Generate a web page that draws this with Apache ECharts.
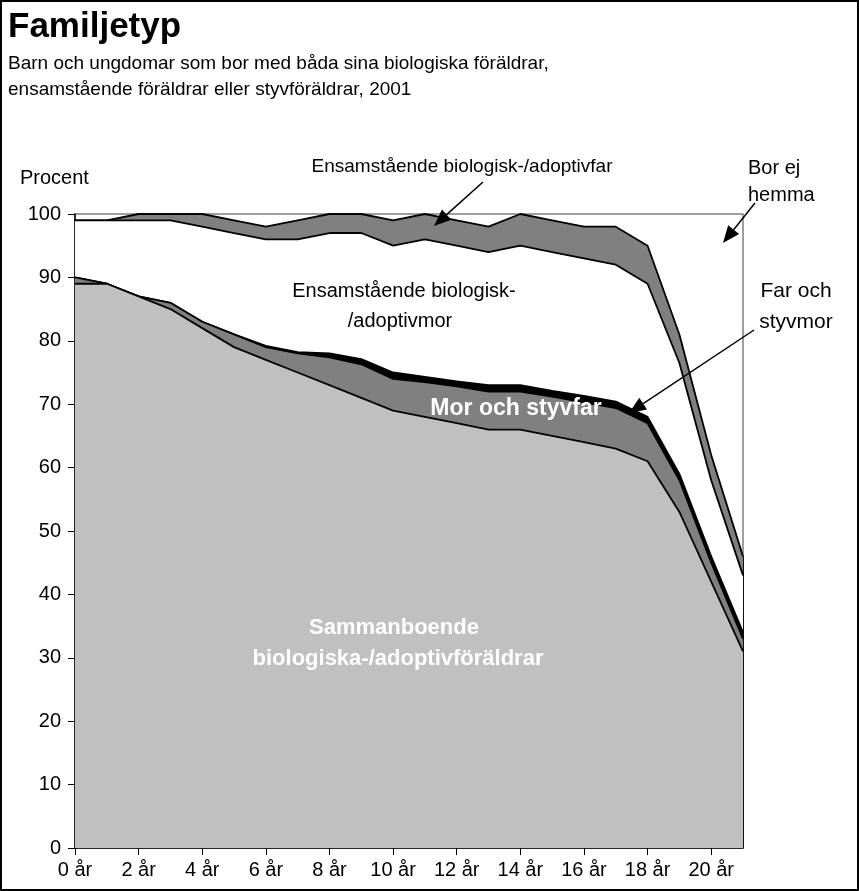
<!DOCTYPE html>
<html>
<head>
<meta charset="utf-8">
<script src="https://cdn.jsdelivr.net/npm/echarts@6/dist/echarts.min.js"></script>
<style>
  html, body { margin: 0; padding: 0; background: #fff; }
  #chart { width: 859px; height: 891px; }
</style>
</head>
<body>
<div id="chart"></div>
<script>
// ---- data (percent) ----
const categories = ['0 år','1 år','2 år','3 år','4 år','5 år','6 år','7 år','8 år','9 år','10 år',
  '11 år','12 år','13 år','14 år','15 år','16 år','17 år','18 år','19 år','20 år','21 år'];
const sammanboende = [89, 89, 87, 85, 82, 79, 77, 75, 73, 71, 69, 68, 67, 66, 66, 65, 64, 63, 61, 53, 42, 31];
const morOchStyvfar = [1, 0, 0, 1, 1, 2, 2, 3, 4.4, 5.3, 5, 5.5, 5.8, 6, 6, 6.2, 6.3, 6.4, 6, 5, 3, 2];
const farOchStyvmor = [0, 0, 0, 0, 0, 0, 0.2, 0.2, 0.6, 0.8, 1, 0.8, 0.8, 1, 1, 0.9, 1, 1, 1, 1, 1, 1];
const ensamMor = [9, 10, 12, 13, 15, 16, 16.8, 17.8, 19, 19.9, 20, 21.7, 21.4, 21, 22, 21.9, 21.7, 21.6, 21, 17.5, 12, 9];
const ensamFar = [0, 0, 1, 1, 2, 2, 2, 3, 3, 3, 4, 4, 4, 4, 5, 5, 5, 6, 6, 4.5, 4, 3];
const borEjHemma = [1, 1, 0, 0, 0, 1, 2, 1, 0, 0, 1, 0, 1, 2, 0, 1, 2, 2, 5, 19, 38, 54];
const yTickMin = 0, yTickMax = 100, yTickStep = 10;

const FONT = "'Liberation Sans', Arial, Helvetica, sans-serif";
const last = categories.length - 1;
const homeTopLast = sammanboende[last] + morOchStyvfar[last] + farOchStyvmor[last] + ensamMor[last] + ensamFar[last];

function areaSeries(name, data, fill, z, lineW) {
  return {
    name, type: 'line', stack: 'total', data, symbol: 'none', z,
    lineStyle: { color: '#000', width: lineW },
    areaStyle: { color: fill, opacity: 1 },
    emphasis: { disabled: true }, silent: true
  };
}

function arrow(x1, y1, x2, y2) {
  const dx = x2 - x1, dy = y2 - y1, len = Math.sqrt(dx*dx + dy*dy);
  const ux = dx/len, uy = dy/len, nx = -uy, ny = ux;
  const L = 17, W = 7;
  const bx = x2 - ux*L, by = y2 - uy*L;
  return [
    { type: 'line', z: 100, shape: { x1, y1, x2: bx, y2: by }, style: { stroke: '#000', lineWidth: 1.5 } },
    { type: 'polygon', z: 100, shape: { points: [[x2, y2], [bx + nx*W, by + ny*W], [bx - nx*W, by - ny*W]] }, style: { fill: '#000' } }
  ];
}

function txt(x, y, text, size, opts) {
  opts = opts || {};
  return { type: 'text', z: 100, x, y, style: {
    text, fontFamily: FONT, fontSize: size, fontWeight: opts.bold ? 'bold' : 'normal',
    fill: opts.color || '#000', align: opts.align || 'left', verticalAlign: 'middle' } };
}

const chart = echarts.init(document.getElementById('chart'), null, { renderer: 'canvas' });
chart.setOption({
  animation: false,
  backgroundColor: '#fff',
  grid: { left: 75, right: 116, top: 214, bottom: 43, show: true, borderColor: '#808080', borderWidth: 1.5, backgroundColor: 'transparent' },
  xAxis: {
    type: 'category', data: categories, boundaryGap: false,
    axisLine: { lineStyle: { color: '#000', width: 1.5 } },
    axisTick: { interval: 1, length: 7, lineStyle: { color: '#000' } },
    axisLabel: { interval: 1, color: '#000', fontFamily: FONT, fontSize: 20, margin: 12 },
    splitLine: { show: false }
  },
  yAxis: {
    type: 'value', min: yTickMin, max: yTickMax, interval: yTickStep,
    axisLine: { show: true, lineStyle: { color: '#000', width: 1.5 } },
    axisTick: { show: true, length: 7, lineStyle: { color: '#000' } },
    axisLabel: { color: '#000', fontFamily: FONT, fontSize: 20, margin: 14 },
    splitLine: { show: false }
  },
  series: [
    areaSeries('Sammanboende biologiska-/adoptivföräldrar', sammanboende, '#C0C0C0', 10, 1.8),
    areaSeries('Mor och styvfar', morOchStyvfar, '#808080', 9, 1.8),
    areaSeries('Far och styvmor', farOchStyvmor, '#000000', 8, 1.8),
    areaSeries('Ensamstående biologisk-/adoptivmor', ensamMor, '#FFFFFF', 7, 1.8),
    Object.assign(areaSeries('Ensamstående biologisk-/adoptivfar', ensamFar, '#808080', 6, 1.8), {
      markLine: { symbol: 'none', silent: true, animation: false, label: { show: false },
        lineStyle: { color: '#000', width: 1.8, type: 'solid' },
        data: [[{ coord: [last, 0] }, { coord: [last, homeTopLast] }]] }
    }),
    { name: 'Bor ej hemma', type: 'line', stack: 'total', data: borEjHemma, symbol: 'none', z: 5,
      lineStyle: { width: 0, opacity: 0 }, areaStyle: { opacity: 0 }, silent: true }
  ],
  graphic: [
    { type: 'rect', z: 100, shape: { x: 1, y: 1, width: 857, height: 889 }, style: { fill: 'none', stroke: '#000', lineWidth: 2 } },
    txt(8, 27, 'Familjetyp', 35, { bold: true }),
    txt(8, 64, 'Barn och ungdomar som bor med båda sina biologiska föräldrar,', 19),
    txt(8, 90, 'ensamstående föräldrar eller styvföräldrar, 2001', 19),
    txt(20, 178, 'Procent', 20),
    txt(462, 167, 'Ensamstående biologisk-/adoptivfar', 19, { align: 'center' }),
    txt(748, 168, 'Bor ej', 20),
    txt(748, 195, 'hemma', 20),
    txt(404, 291, 'Ensamstående biologisk-', 20, { align: 'center' }),
    txt(400, 321, '/adoptivmor', 20, { align: 'center' }),
    txt(796, 291, 'Far och', 21, { align: 'center' }),
    txt(796, 322, 'styvmor', 21, { align: 'center' }),
    txt(516, 409, 'Mor och styvfar', 23, { bold: true, color: '#FFFFFF', align: 'center' }),
    txt(394, 628, 'Sammanboende', 22, { bold: true, color: '#FFFFFF', align: 'center' }),
    txt(398, 659, 'biologiska-/adoptivföräldrar', 22, { bold: true, color: '#FFFFFF', align: 'center' }),
    ...arrow(483, 182, 434, 226),
    ...arrow(755, 203, 723, 243),
    ...arrow(754, 330, 629, 413)
  ]
});
</script>
</body>
</html>
